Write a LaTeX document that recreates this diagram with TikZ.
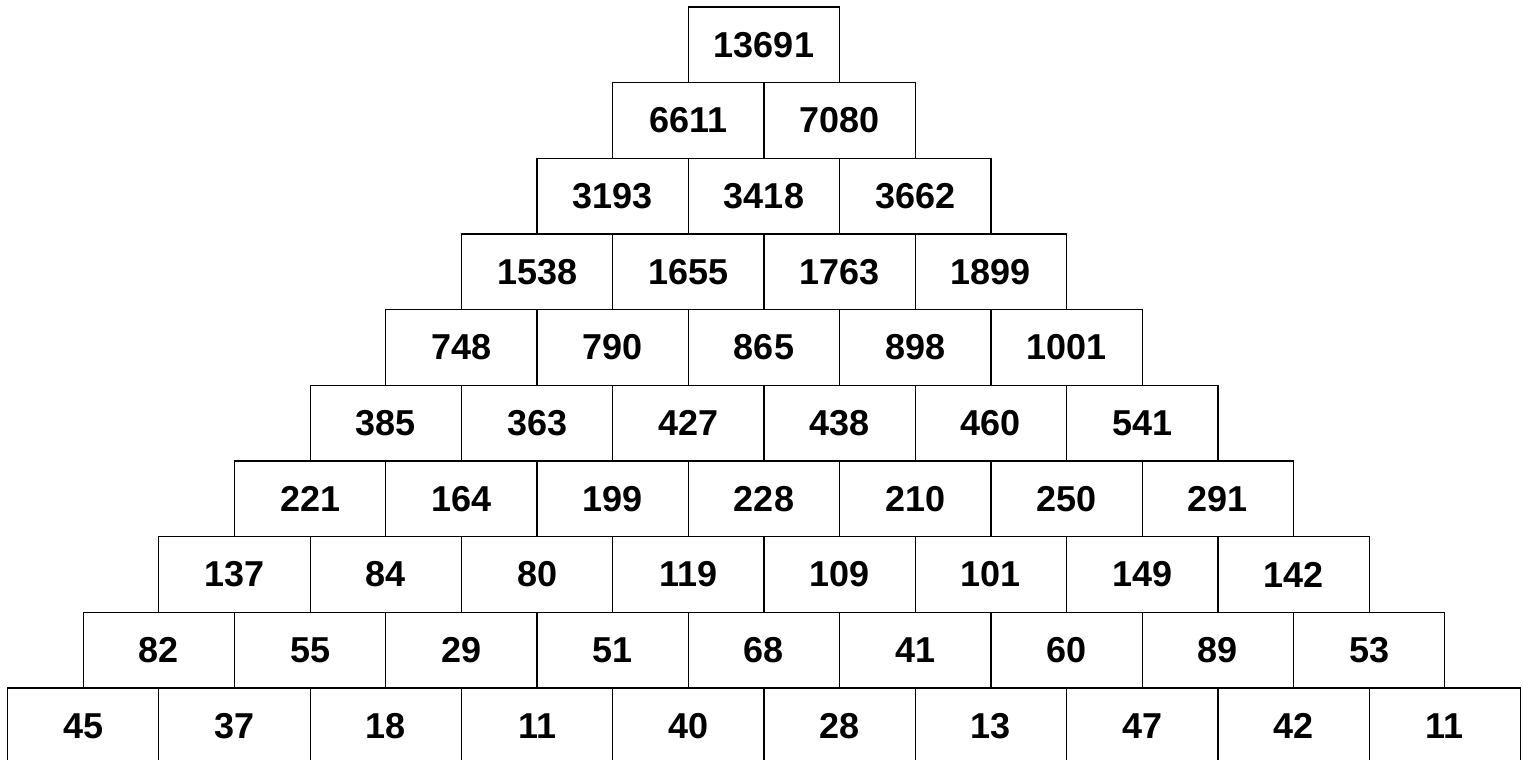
\documentclass[tikz,border=0pt]{standalone}
\usepackage{fontspec}
\setmainfont{Liberation Sans}
\usepackage{tikz}
\usetikzlibrary{positioning}

\tikzset{
  cell/.style={draw, line width=0.6pt, inner sep=0pt,
    minimum width=75.65pt, minimum height=37.83pt,
    font=\fontsize{18}{20}\selectfont\bfseries}
}

\begin{document}
\begin{tikzpicture}[x=0.5pt, y=-0.5pt]
  \useasboundingbox (0,0) rectangle (1523,760);
  % one list per row, top to bottom
  \foreach \vals [count=\r] in {{13691},{6611,7080},{3193,3418,3662},
      {1538,1655,1763,1899},{748,790,865,898,1001},
      {385,363,427,438,460,541},{221,164,199,228,210,250,291},
      {137,84,80,119,109,101,149,142},{82,55,29,51,68,41,60,89,53},
      {45,37,18,11,40,28,13,47,42,11}} {
    \foreach \v [count=\i] in \vals {
      \node[cell] (b\r-\i) at ({764-(\r-1)*75.65+(\i-1)*151.3},{44.8+(\r-1)*75.67}) {\v};
    }
  }
\end{tikzpicture}
\end{document}
